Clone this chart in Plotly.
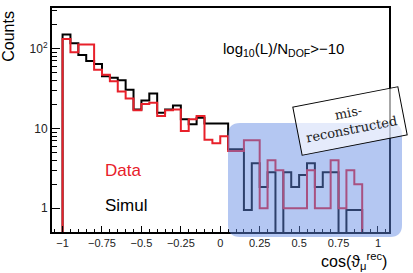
import plotly.graph_objects as go

# ---- data ----
bin_edges_lo = -1.0
bin_width = 0.05
n_bins = 40

data_counts = [132, 90, 113, 113, 54.5, 47, 39, 29, 23.7, 16.9,
               20.3, 20.9, 14.3, 16.9, 17.3, 9.3, 13, 14.3, 7.2, 6.5,
               8, 5.2, 5.2, 7.1, 7.1, 1, 4, 3, 1, 1,
               1, 3, 1, 1, 4, 1, 3, 2, 0, 0]
simul_counts = [150, 117, 83, 70, 64, 45, 43, 40, 30.6, 17.3,
                22.4, 27.4, 15.7, 17.3, 19.4, 13, 11.3, 13.6, 11.5, 11.5,
                11.5, 5.5, 5.5, 0.95, 3.66, 1.84, 2.83, 0, 2.83, 1.84,
                2.6, 3.66, 1.84, 2.83, 2.83, 0, 0.95, 0.95, 0, 0]

x_tick_vals = [-1, -0.75, -0.5, -0.25, 0, 0.25, 0.5, 0.75, 1]
x_tick_text = ["\u22121", "\u22120.75", "\u22120.5", "\u22120.25", "0", "0.25", "0.5", "0.75", "1"]
y_tick_vals = [1, 10, 100]
y_tick_text = ["1", "10", "10<sup>2</sup>"]

FLOOR = 0.01  # below visible range for empty bins on log scale


def step_xy(counts):
    edges = [bin_edges_lo + i * bin_width for i in range(n_bins + 1)]
    ys = [c if c > 0 else FLOOR for c in counts]
    xs = [edges[0]] + edges + [edges[-1]]
    yv = [FLOOR] + ys + [ys[-1], FLOOR]
    return xs, yv


fig = go.Figure()
sx, sy = step_xy(simul_counts)
fig.add_trace(go.Scatter(x=sx, y=sy, mode="lines", line=dict(color="black", width=2, shape="hv"),
                         hoverinfo="skip", showlegend=False))
dx, dy = step_xy(data_counts)
fig.add_trace(go.Scatter(x=dx, y=dy, mode="lines", line=dict(color="#e8202a", width=2, shape="hv"),
                         hoverinfo="skip", showlegend=False))

W, H = 413, 273
L, R, T, B = 52, 389, 6, 232


def px(x):
    return (x - L) / (R - L)


def py(y):
    return (B - y) / (B - T)


# highlighted rounded region
x0, x1 = px(228), px(402)
y0, y1 = py(237), py(122)
r = 12
rx, ry = r / (R - L), r / (B - T)
path = (f"M {x0+rx},{y1} L {x1-rx},{y1} Q {x1},{y1} {x1},{y1-ry} "
        f"L {x1},{y0+ry} Q {x1},{y0} {x1-rx},{y0} L {x0+rx},{y0} "
        f"Q {x0},{y0} {x0},{y0+ry} L {x0},{y1-ry} Q {x0},{y1} {x0+rx},{y1} Z")
fig.add_shape(type="path", path=path, xref="paper", yref="paper",
              fillcolor="rgba(95,135,228,0.47)", line=dict(width=0), layer="above")

sans = "Liberation Sans"
ann = []
ann.append(dict(x=px(221), y=py(48), xref="paper", yref="paper", xanchor="left", yanchor="middle",
                text="log<sub>10</sub>(L)/N<sub>DOF</sub>>\u221210", showarrow=False,
                font=dict(family=sans, size=15, color="black")))
ann.append(dict(x=px(103), y=py(170), xref="paper", yref="paper", xanchor="left", yanchor="middle",
                text="Data", showarrow=False, font=dict(family=sans, size=17, color="#e8202a")))
ann.append(dict(x=px(103), y=py(205), xref="paper", yref="paper", xanchor="left", yanchor="middle",
                text="Simul", showarrow=False, font=dict(family=sans, size=17, color="black")))
ann.append(dict(x=px(9), y=py(35), xref="paper", yref="paper", xanchor="center", yanchor="middle",
                text="Counts", textangle=-90, showarrow=False, font=dict(family=sans, size=16, color="black")))
ann.append(dict(x=px(389), y=py(261), xref="paper", yref="paper", xanchor="right", yanchor="middle",
                text="cos(\u03d1<sub>\u03bc</sub><sup>rec</sup>)", showarrow=False,
                font=dict(family=sans, size=16, color="black")))
ann.append(dict(x=px(350), y=py(120), xref="paper", yref="paper", xanchor="center", yanchor="middle",
                text="mis-<br>reconstructed", textangle=-11, showarrow=False,
                width=104, height=46, bordercolor="black", borderwidth=1, borderpad=1,
                bgcolor="rgba(255,255,255,0.65)",
                font=dict(family="DejaVu Serif", size=13, color="#222")))

fig.update_layout(
    width=W, height=H,
    margin=dict(l=L, r=W - R, t=T, b=H - B),
    paper_bgcolor="white", plot_bgcolor="white",
    annotations=ann,
    xaxis=dict(range=[-1.067, 1.07], tickvals=x_tick_vals, ticktext=x_tick_text,
               ticks="inside", ticklen=6, tickwidth=1, tickcolor="black",
               minor=dict(dtick=0.05, tick0=0, ticks="inside", ticklen=3, tickcolor="black"),
               showline=True, linewidth=2, linecolor="black", mirror=True,
               showgrid=False, zeroline=False,
               tickfont=dict(family=sans, size=11, color="#222")),
    yaxis=dict(type="log", range=[-0.298, 2.509], tickvals=y_tick_vals, ticktext=y_tick_text,
               ticks="inside", ticklen=8, tickwidth=1, tickcolor="black",
               minor=dict(tickvals=[2, 3, 4, 5, 6, 7, 8, 9, 20, 30, 40, 50, 60, 70, 80, 90, 200, 300],
                          ticks="inside", ticklen=5, tickcolor="black"),
               showline=True, linewidth=2, linecolor="black", mirror=True,
               showgrid=False, zeroline=False,
               tickfont=dict(family=sans, size=12, color="#222")),
)

fig.write_html("out.html", config={"displayModeBar": False},
               post_script="document.body.style.margin='0px';document.body.style.overflow='hidden';")
